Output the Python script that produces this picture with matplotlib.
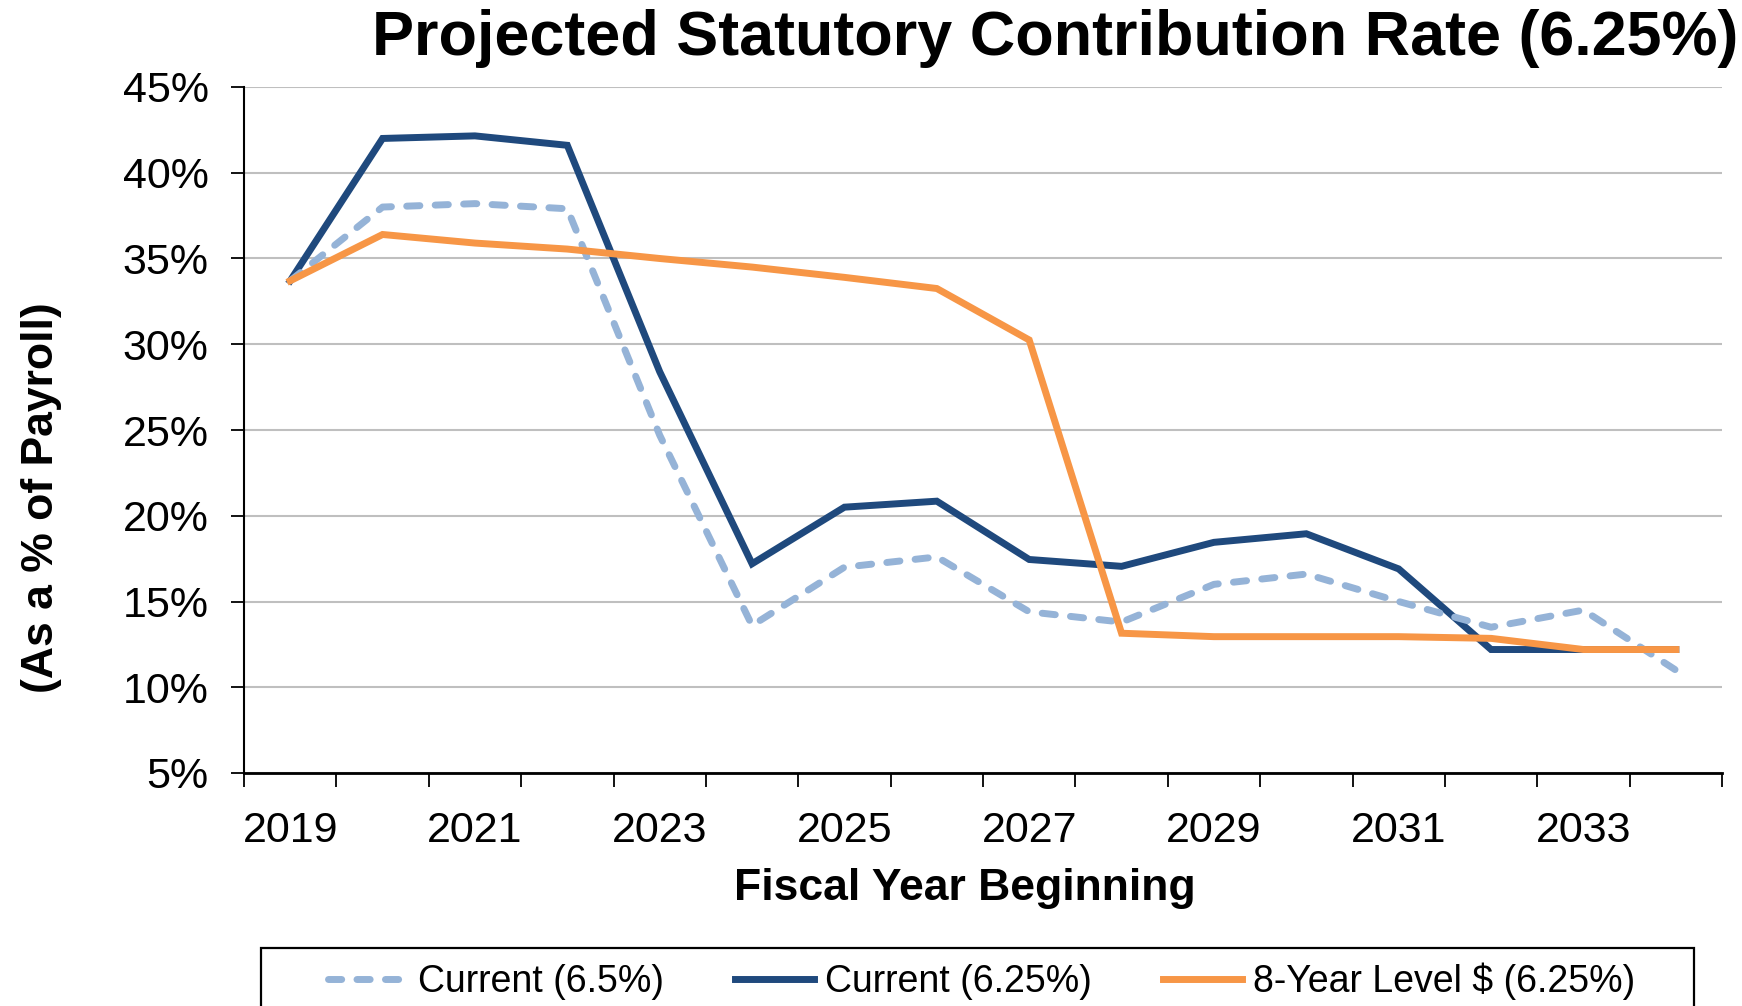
import matplotlib
matplotlib.use("Agg")
import matplotlib.pyplot as plt
from matplotlib.patches import Rectangle
from matplotlib.ticker import FixedLocator, NullFormatter, FixedFormatter

plt.rcParams['font.family'] = ['Liberation Sans', 'DejaVu Sans']

years = list(range(2019, 2035))
current_65 = [33.7, 38.0, 38.2, 37.9, 24.7, 13.6, 17.0, 17.6, 14.4, 13.8, 16.0, 16.6, 15.0, 13.5, 14.5, 11.0]
current_625 = [33.7, 42.0, 42.15, 41.6, 28.4, 17.2, 20.5, 20.85, 17.45, 17.05, 18.45, 18.95, 16.9, 12.2, 12.2, 12.2]
level_8yr = [33.7, 36.4, 35.9, 35.55, 35.0, 34.5, 33.9, 33.25, 30.25, 13.15, 12.95, 12.95, 12.95, 12.85, 12.2, 12.2]
series_labels = ["Current (6.5%)", "Current (6.25%)", "8-Year Level $ (6.25%)"]
y_ticks = [5, 10, 15, 20, 25, 30, 35, 40, 45]
x_label_years = [2019, 2021, 2023, 2025, 2027, 2029, 2031, 2033]

W, H = 1742, 1006
fig = plt.figure(figsize=(W / 100, H / 100), dpi=100)
ax = fig.add_axes([244 / W, 1 - 773 / H, (1722 - 244) / W, (773 - 87) / H])

x = list(range(len(years)))
c_light = '#95B3D7'
c_dark = '#1F497D'
c_orange = '#F79646'
LW = 5.0

l2, = ax.plot(x, current_625, color=c_dark, lw=LW, zorder=3, solid_joinstyle='miter', label=series_labels[1])
l1, = ax.plot(x, current_65, color=c_light, lw=LW, zorder=4, dashes=(1.9, 2.2),
              dash_capstyle='round', dash_joinstyle='round', label=series_labels[0])
l3, = ax.plot(x, level_8yr, color=c_orange, lw=LW, zorder=5, solid_joinstyle='miter', label=series_labels[2])

ax.set_xlim(-0.5, len(years) - 0.5)
ax.set_ylim(5, 45)

ax.set_yticks(y_ticks)
ax.set_yticklabels([f"{v}%" for v in y_ticks])
ax.yaxis.grid(True, color='#BFBFBF', lw=1.5)
ax.set_axisbelow(True)

ax.xaxis.set_major_locator(FixedLocator([i - 0.5 for i in range(len(years) + 1)]))
ax.xaxis.set_major_formatter(NullFormatter())
lab_pos = [years.index(y) for y in x_label_years]
ax.xaxis.set_minor_locator(FixedLocator(lab_pos))
ax.xaxis.set_minor_formatter(FixedFormatter([str(y) for y in x_label_years]))
ax.tick_params(axis='x', which='major', direction='out', length=10, width=1.3, color='black')
ax.tick_params(axis='x', which='minor', length=0, pad=27, labelsize=31)
ax.tick_params(axis='y', which='major', direction='out', length=9.5, width=1.3, pad=16, labelsize=31)

for s in ['top', 'right']:
    ax.spines[s].set_visible(False)
ax.spines['left'].set_linewidth(1.5)
ax.spines['bottom'].set_linewidth(2.0)

fig.text(0.6055, 1 - 55.5 / H, "Projected Statutory Contribution Rate (6.25%)",
         ha='center', va='baseline', fontsize=45.3, fontweight='bold')
fig.text(0.554, 1 - 900 / H, "Fiscal Year Beginning", ha='center', va='baseline',
         fontsize=32, fontweight='bold')
fig.text(42 / W, 1 - 498 / H, "(As a % of Payroll)", ha='center', va='center',
         rotation=90, fontsize=32, fontweight='bold')

fig.patches.append(Rectangle((261 / W, -0.05), (1694 - 261) / W, (1006 - 948) / H + 0.05,
                             transform=fig.transFigure, fill=False, ec='black', lw=1.6))
fig.legend(handles=[l1, l2, l3], labels=series_labels, ncol=3, loc='center',
           bbox_to_anchor=(981.5 / W, 1 - 981 / H), frameon=False, fontsize=27,
           handlelength=2.1, handletextpad=0.3, columnspacing=1.9)

fig.savefig("out.png", dpi=100)
